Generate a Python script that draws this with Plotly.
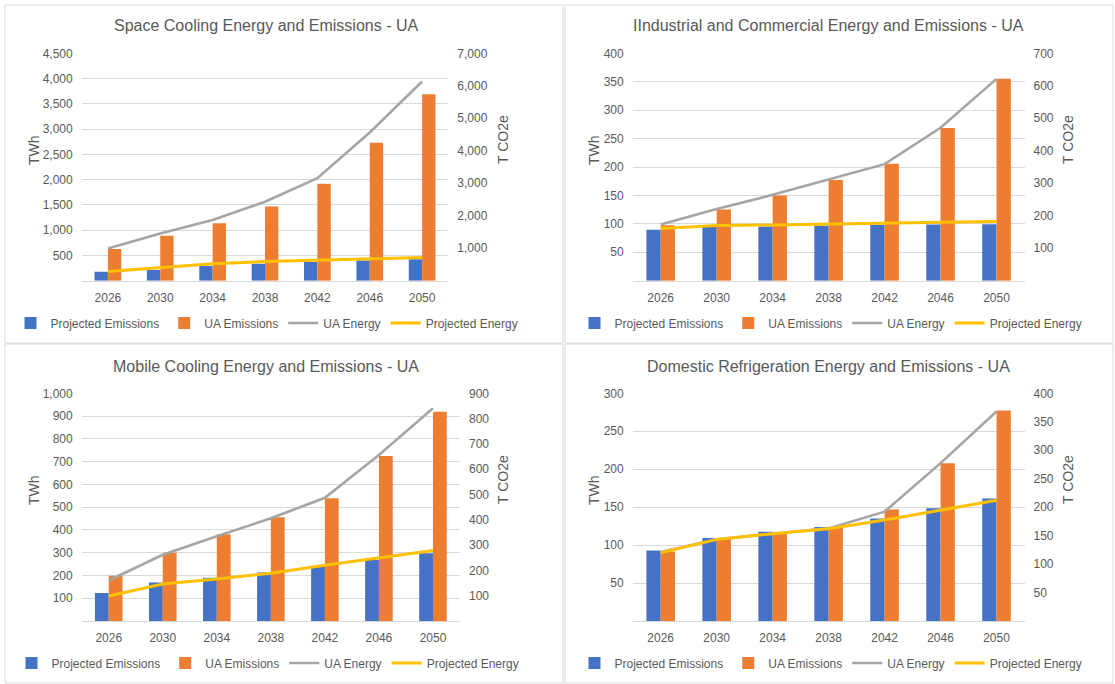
import plotly.graph_objects as go

# ---- data -------------------------------------------------------------
years = ["2026", "2030", "2034", "2038", "2042", "2046", "2050"]

space_proj_emissions = [275, 330, 450, 520, 575, 620, 660]
space_ua_emissions = [975, 1380, 1770, 2285, 2986, 4248, 5736]
space_ua_energy = [635, 935, 1200, 1562, 2030, 2933, 3941]
space_proj_energy = [180, 262, 335, 378, 410, 432, 460]

indcom_proj_emissions = [157, 165, 167, 169, 172, 173, 174]
indcom_ua_emissions = [171, 219, 262, 310, 360, 470, 622]
indcom_ua_energy = [99, 126, 151, 178, 205, 269, 355]
indcom_proj_energy = [92, 97, 98, 100, 102, 103, 104]

mobile_proj_emissions = [111, 152, 171, 192, 217, 241, 268]
mobile_ua_emissions = [179, 270, 343, 410, 485, 652, 827]
mobile_ua_energy = [178, 291, 372, 451, 541, 729, 934]
mobile_proj_energy = [110, 162, 184, 210, 245, 279, 310]

domref_proj_emissions = [124, 146, 157, 165, 180, 198, 215]
domref_ua_emissions = [122, 145, 156, 164, 196, 277, 370]
domref_ua_energy = [91, 107.5, 115, 122, 144, 208, 276]
domref_proj_energy = [90, 107.5, 115, 121.5, 133, 146, 159]

titles = [
    "Space Cooling Energy and Emissions - UA",
    "IIndustrial and Commercial Energy and Emissions - UA",
    "Mobile Cooling Energy and Emissions - UA",
    "Domestic Refrigeration Energy and Emissions - UA",
]

# left (TWh) tick labels
twh_ticks = [
    [500, 1000, 1500, 2000, 2500, 3000, 3500, 4000, 4500],
    [50, 100, 150, 200, 250, 300, 350, 400],
    [100, 200, 300, 400, 500, 600, 700, 800, 900, 1000],
    [50, 100, 150, 200, 250, 300],
]
# right (T CO2e) tick labels
co2_ticks = [
    [1000, 2000, 3000, 4000, 5000, 6000, 7000],
    [100, 200, 300, 400, 500, 600, 700],
    [100, 200, 300, 400, 500, 600, 700, 800, 900],
    [50, 100, 150, 200, 250, 300, 350, 400],
]

series = [
    (space_proj_emissions, space_ua_emissions, space_ua_energy, space_proj_energy),
    (indcom_proj_emissions, indcom_ua_emissions, indcom_ua_energy, indcom_proj_energy),
    (mobile_proj_emissions, mobile_ua_emissions, mobile_ua_energy, mobile_proj_energy),
    (domref_proj_emissions, domref_ua_emissions, domref_ua_energy, domref_proj_energy),
]

# ---- layout geometry (pixels) ----------------------------------------
W, H = 1115, 684
FONT = "Liberation Sans, Arial, sans-serif"
TXT = "#595959"
GRID = "#D9D9D9"
BLUE, ORANGE, GREY, GOLD = "#4472C4", "#ED7D31", "#A5A5A5", "#FFC000"

# plot areas: (left, right, top, bottom)
areas = [
    (81.7, 448.3, 53.3, 280.7),
    (632.7, 1024.5, 53.3, 280.7),
    (81.7, 460.0, 393.3, 621.0),
    (632.7, 1024.5, 393.3, 621.0),
]
# panel frames: (x0, y0, x1, y1)
frames = [
    (5, 5, 563, 343),
    (565, 5, 1113, 343),
    (5, 344, 563, 683),
    (565, 344, 1113, 683),
]
title_pos = [(266, 26), (829, 26), (266, 366), (828, 366)]
legend_pos = [(267, 323), (831, 323), (268, 663), (831, 663)]
twh_title_pos = [(34, 150), (594, 150), (34, 490), (594, 490)]
co2_title_pos = [(503, 140), (1068, 140), (503, 480), (1068, 480)]


def fx(px):
    return px / W


def fy(py):
    return 1 - py / H


fig = go.Figure()
layout = dict(
    width=W,
    height=H,
    margin=dict(l=0, r=0, t=0, b=0, pad=0, autoexpand=False),
    paper_bgcolor="white",
    plot_bgcolor="rgba(0,0,0,0)",
    font=dict(family=FONT, size=12, color=TXT),
    barmode="group",
    bargap=0.49,
    bargroupgap=0,
    annotations=[],
    shapes=[],
    showlegend=True,
)

for i in range(4):
    xa = f"x{i + 1}" if i else "x"
    base_n = 2 * i + 1
    over_n = 2 * i + 2
    ya_base = f"y{base_n}" if base_n > 1 else "y"
    ya_over = f"y{over_n}"
    leg = f"legend{i + 1}" if i else "legend"
    proj_em, ua_em, ua_en, proj_en = series[i]

    fig.add_trace(go.Bar(x=years, y=proj_em, name="Projected Emissions",
                         marker=dict(color=BLUE, line=dict(width=0)),
                         xaxis=xa, yaxis=ya_base, legend=leg))
    fig.add_trace(go.Bar(x=years, y=ua_em, name="UA Emissions",
                         marker=dict(color=ORANGE, line=dict(width=0)),
                         xaxis=xa, yaxis=ya_base, legend=leg))
    fig.add_trace(go.Scatter(x=years, y=ua_en, name="UA Energy", mode="lines",
                             line=dict(color=GREY, width=2.6),
                             xaxis=xa, yaxis=ya_over, legend=leg))
    fig.add_trace(go.Scatter(x=years, y=proj_en, name="Projected Energy", mode="lines",
                             line=dict(color=GOLD, width=3),
                             xaxis=xa, yaxis=ya_over, legend=leg))

    l, r, t, b = areas[i]
    xkey = f"xaxis{i + 1}" if i else "xaxis"
    layout[xkey] = dict(
        domain=[fx(l), fx(r)],
        anchor=ya_base,
        automargin=False,
        showgrid=False,
        showline=True,
        linecolor=GRID,
        linewidth=1,
        ticks="",
        ticklabelstandoff=6,
        tickfont=dict(size=12, color=TXT),
        zeroline=False,
        fixedrange=True,
    )
    base_key = f"yaxis{base_n}" if base_n > 1 else "yaxis"
    layout[base_key] = dict(
        domain=[fy(b), fy(t)],
        anchor=xa,
        side="right",
        automargin=False,
        range=[0, co2_ticks[i][-1]],
        tickvals=co2_ticks[i],
        tickformat=",d",
        showgrid=False,
        showline=False,
        zeroline=False,
        ticks="",
        ticklabelstandoff=8,
        tickfont=dict(size=12, color=TXT),
    )
    layout[f"yaxis{over_n}"] = dict(
        overlaying=ya_base,
        anchor=xa,
        side="left",
        automargin=False,
        range=[0, twh_ticks[i][-1]],
        tickvals=twh_ticks[i],
        tickformat=",d",
        showgrid=True,
        gridcolor=GRID,
        gridwidth=1,
        showline=False,
        zeroline=False,
        ticks="",
        ticklabelstandoff=8,
        tickfont=dict(size=12, color=TXT),
    )

    lx, ly = legend_pos[i]
    layout[leg] = dict(
        orientation="h",
        x=fx(lx), y=fy(ly),
        xanchor="center", yanchor="middle",
        font=dict(size=12, color=TXT),
        bgcolor="rgba(0,0,0,0)",
        itemwidth=30,
        traceorder="normal",
    )

    tx, ty = title_pos[i]
    layout["annotations"].append(dict(
        text=titles[i], x=fx(tx), y=fy(ty), xref="paper", yref="paper",
        xanchor="center", yanchor="middle", showarrow=False,
        font=dict(size=16, color=TXT, family=FONT)))
    ax_, ay_ = twh_title_pos[i]
    layout["annotations"].append(dict(
        text="TWh", x=fx(ax_), y=fy(ay_), xref="paper", yref="paper",
        xanchor="center", yanchor="middle", showarrow=False, textangle=-90,
        font=dict(size=14, color=TXT, family=FONT)))
    cx, cy = co2_title_pos[i]
    layout["annotations"].append(dict(
        text="T CO2e", x=fx(cx), y=fy(cy), xref="paper", yref="paper",
        xanchor="center", yanchor="middle", showarrow=False, textangle=-90,
        font=dict(size=14, color=TXT, family=FONT)))

    x0, y0, x1, y1 = frames[i]
    layout["shapes"].append(dict(
        type="rect", xref="paper", yref="paper",
        x0=fx(x0), x1=fx(x1), y0=fy(y1), y1=fy(y0),
        line=dict(color=GRID, width=1), fillcolor="rgba(0,0,0,0)", layer="below"))

fig.update_layout(**layout)
fig.write_html("out.html", config={"displayModeBar": False})
